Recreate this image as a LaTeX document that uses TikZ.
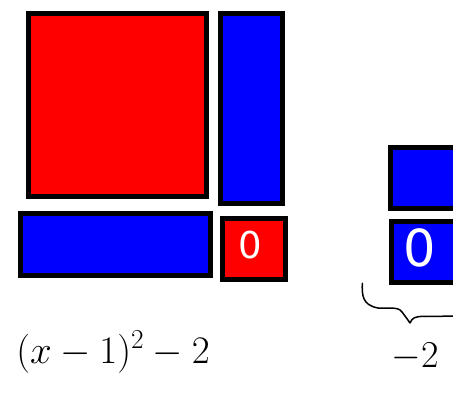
\RequirePackage{fix-cm}
\documentclass[tikz,border=0pt]{standalone}
\usepackage{fontspec}
\newfontfamily\digitfont{DejaVu Sans}
\begin{document}
\begin{tikzpicture}[x=1pt,y=1pt,
  tile/.style={draw=black,line width=5pt,inner sep=0pt,outer sep=0pt},
  redtile/.style={tile,fill=red},
  bluetile/.style={tile,fill=blue},
  digit/.style={text=white,inner sep=0pt},
  hand/.style={text=black,inner sep=0pt}]
\clip (0,0) rectangle (453,-393);
\useasboundingbox (0,0) rectangle (453,-393);
\fill[white] (0,0) rectangle (453,-393);
\node[redtile,minimum width=178pt,minimum height=183pt] (A) at (117.5,-105) {};
\node[bluetile,minimum width=62pt,minimum height=190pt] (B) at (251.5,-108.5) {};
\node[bluetile,minimum width=190pt,minimum height=62pt] (C) at (115.5,-244.5) {};
\node[redtile,minimum width=63pt,minimum height=61pt] (D) at (254,-249) {};
\node[digit,font=\fontsize{37}{37}\selectfont\digitfont] (Do) at (250,-245) {0};
\node[bluetile,minimum width=79.5pt,minimum height=61pt] (E) at (430.25,-178) {};
\node[bluetile,minimum width=78.5pt,minimum height=61pt] (F) at (430.75,-252) {};
\node[digit,font=\fontsize{51}{51}\selectfont\digitfont] (Fo) at (420,-247.5) {0};
\draw[line width=1.5pt,line cap=round,line join=round]
  (362.3,-283.3) .. controls (362,-295) and (362,-305) .. (378,-308)
  .. controls (388,-309) and (398,-306) .. (402,-312)
  .. controls (405,-316) and (408,-320) .. (410,-323)
  .. controls (412,-318) and (415,-316) .. (425,-316.5)
  -- (460,-316);
\node[hand,font=\fontsize{39}{39}\selectfont] (expr) at (113,-352) {$(x-1)^2-2$};
\node[hand,font=\fontsize{38}{38}\selectfont] (m2) at (415,-357) {$-2$};
\end{tikzpicture}
\end{document}
